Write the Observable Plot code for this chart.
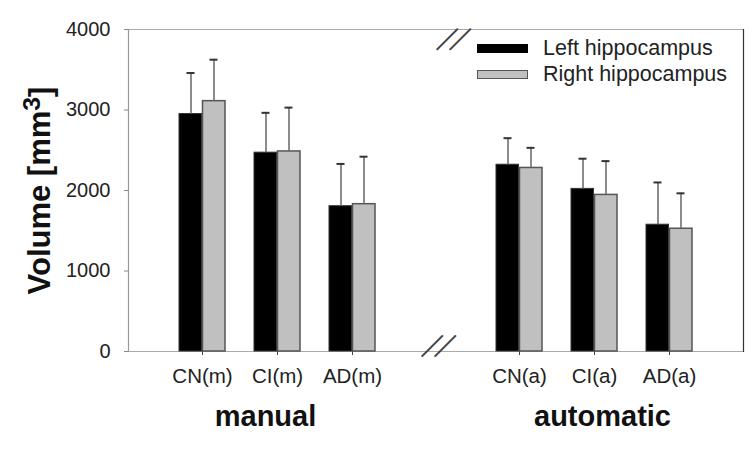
<!DOCTYPE html>
<html>
<head>
<meta charset="utf-8">
<script src="https://cdn.jsdelivr.net/npm/d3@7"></script>
<script src="https://cdn.jsdelivr.net/npm/@observablehq/plot@0.6"></script>
<style>
  body { margin: 0; background: #fff; }
  #wrap { position: relative; width: 756px; height: 449px; font-family: "Liberation Sans", Arial, sans-serif; }
  #legend { position: absolute; left: 477px; top: 35px; font-size: 21.5px; color: #222; line-height: 26px; }
  #legend .row { display: flex; align-items: center; white-space: nowrap; }
  #legend .sw { display: inline-block; width: 49px; height: 7px; margin-right: 15px; border: 1px solid #444; }
</style>
</head>
<body>
<div id="wrap"><div id="legend"></div></div>
<script>
const categories = ["CN(m)", "CI(m)", "AD(m)", "CN(a)", "CI(a)", "AD(a)"];
const groups = ["CN", "CI", "AD", "CN", "CI", "AD"];
const methods = ["manual", "manual", "manual", "automatic", "automatic", "automatic"];
const methodNames = ["manual", "automatic"];
const leftMean = [2950, 2470, 1805, 2320, 2020, 1575];
const leftSD = [510, 495, 525, 330, 375, 525];
const rightMean = [3110, 2485, 1830, 2280, 1945, 1525];
const rightSD = [515, 545, 590, 250, 420, 440];
const seriesNames = ["Left hippocampus", "Right hippocampus"];
const seriesColors = ["#000000", "#c0c0c0"];
const yTicks = [0, 1000, 2000, 3000, 4000];
const yLabelMain = "Volume [mm";
const yLabelSup = "3";
const yLabelEnd = "]";
const yLabel = yLabelMain + yLabelSup + yLabelEnd;
const breakMark = "—";

const rows = categories.map((c, i) => ({
  label: c, group: groups[i], method: methods[i],
  left: leftMean[i], leftTop: leftMean[i] + leftSD[i],
  right: rightMean[i], rightTop: rightMean[i] + rightSD[i]
}));

const font = "Liberation Sans, Arial, sans-serif";

const chart = Plot.plot({
  width: 756, height: 449,
  marginLeft: 128, marginRight: 13, marginTop: 29, marginBottom: 98,
  style: { fontFamily: font, color: "#222", background: "white", overflow: "visible" },
  fx: { domain: methodNames, paddingInner: 0.06, paddingOuter: 0, axis: null, label: null },
  x: { domain: ["CN", "CI", "AD"], paddingInner: 0.387, paddingOuter: 0.68 },
  y: { domain: [0, 4000] },
  marks: [
    Plot.ruleY([0, 4000], { stroke: "#aaa", strokeWidth: 1.2, facetAnchor: "left", insetRight: -20 }),
    Plot.ruleY([0, 4000], { stroke: "#aaa", strokeWidth: 1.2, facetAnchor: "right" }),
    Plot.frame({ anchor: "left", stroke: "#999", strokeWidth: 1.2, facetAnchor: "left" }),
    Plot.frame({ anchor: "right", stroke: "#333", strokeWidth: 1.2, facetAnchor: "right" }),
    Plot.barY(rows, { fx: "method", x: "group", y: "left", fill: seriesColors[0], stroke: "#333", strokeWidth: 1, insetRight: 23.5 }),
    Plot.barY(rows, { fx: "method", x: "group", y: "right", fill: seriesColors[1], stroke: "#555", strokeWidth: 1.5, insetLeft: 23.5 }),
    Plot.ruleX(rows, { fx: "method", x: "group", y1: "left", y2: "leftTop", dx: -11.5, stroke: "#666", strokeWidth: 1.5 }),
    Plot.ruleX(rows, { fx: "method", x: "group", y1: "right", y2: "rightTop", dx: 11.5, stroke: "#666", strokeWidth: 1.5 }),
    Plot.tickY(rows, { fx: "method", x: "group", y: "leftTop", dx: -11.5, insetLeft: 19, insetRight: 19, stroke: "#333", strokeWidth: 2 }),
    Plot.tickY(rows, { fx: "method", x: "group", y: "rightTop", dx: 11.5, insetLeft: 19, insetRight: 19, stroke: "#333", strokeWidth: 2 }),
    Plot.axisX({ tickSize: 4, tickFormat: () => "", label: null, stroke: "#444" }),
    Plot.axisY({ ticks: yTicks, tickFormat: d3.format("d"), tickSize: 4, tickPadding: 14, fontSize: 20, label: null, stroke: "#888", fill: "#222" }),
    Plot.text(rows, { fx: "method", x: "group", text: "label", frameAnchor: "bottom", dy: 31, fontSize: 20.5, fill: "#222" }),
    Plot.text([methodNames[0]], { fx: d => d, text: d => d, frameAnchor: "bottom", dy: 74, dx: -12, fontSize: 29, fontWeight: "bold", fill: "#111" }),
    Plot.text([methodNames[1]], { fx: d => d, text: d => d, frameAnchor: "bottom", dy: 74, dx: 8, fontSize: 29, fontWeight: "bold", fill: "#111" }),
    Plot.text([yLabel], { facetAnchor: "left", frameAnchor: "left", textAnchor: "middle", rotate: -90, dx: -88, fontSize: 31, fontWeight: "bold", fill: "#111", className: "ylab" }),
    Plot.text([breakMark], { facetAnchor: "right", frameAnchor: "top-left", textAnchor: "middle", rotate: -45, dx: -8, fontSize: 30, fill: "#444" }),
    Plot.text([breakMark], { facetAnchor: "right", frameAnchor: "top-left", textAnchor: "middle", rotate: -45, dx: 5, fontSize: 30, fill: "#444" }),
    Plot.text([breakMark], { facetAnchor: "right", frameAnchor: "bottom-left", textAnchor: "middle", rotate: -45, dx: -8, fontSize: 30, fill: "#444" }),
    Plot.text([breakMark], { facetAnchor: "right", frameAnchor: "bottom-left", textAnchor: "middle", rotate: -45, dx: 5, fontSize: 30, fill: "#444" })
  ]
});

// render the "3" of the unit as a superscript
d3.select(chart).selectAll("text").filter(function () { return this.textContent === yLabel; }).each(function () {
  const t = d3.select(this);
  t.text(null);
  t.append("tspan").text(yLabelMain);
  t.append("tspan").text(yLabelSup).attr("dy", "-0.42em").attr("font-size", "0.8em");
  t.append("tspan").text(yLabelEnd).attr("dy", "0.34em");
});

const wrap = document.getElementById("wrap");
wrap.insertBefore(chart, wrap.firstChild);

const legend = d3.select("#legend");
seriesNames.forEach((name, i) => {
  const row = legend.append("div").attr("class", "row");
  row.append("span").attr("class", "sw").style("background", seriesColors[i]).style("border-color", i === 0 ? "#000" : "#555");
  row.append("span").text(name);
});
</script>
</body>
</html>
